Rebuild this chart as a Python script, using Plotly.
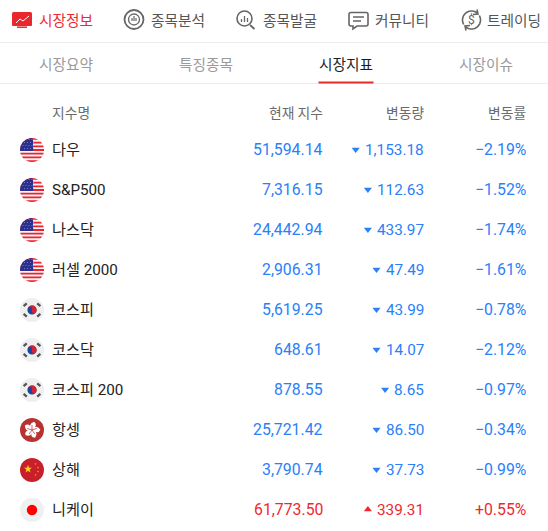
import math
import plotly.graph_objects as go

nav_labels = ["시장정보", "종목분석", "종목발굴", "커뮤니티", "트레이딩"]
tab_labels = ["시장요약", "특징종목", "시장지표", "시장이슈"]
headers = ["지수명", "현재 지수", "변동량", "변동률"]
names = ["다우", "S&P500", "나스닥", "러셀 2000", "코스피", "코스닥", "코스피 200", "항셍", "상해", "니케이"]
flags = ["us", "us", "us", "us", "kr", "kr", "kr", "hk", "cn", "jp"]
index_values = ["51,594.14", "7,316.15", "24,442.94", "2,906.31", "5,619.25", "648.61", "878.55", "25,721.42", "3,790.74", "61,773.50"]
changes = ["1,153.18", "112.63", "433.97", "47.49", "43.99", "14.07", "8.65", "86.50", "37.73", "339.31"]
rates = ["−2.19%", "−1.52%", "−1.74%", "−1.61%", "−0.78%", "−2.12%", "−0.97%", "−0.34%", "−0.99%", "+0.55%"]

BLUE = "#2a80f8"
RED = "#f0282d"
FONT = "Roboto, 'Noto Sans CJK KR', sans-serif"
KFONT = "'Noto Sans CJK KR', sans-serif"

fig = go.Figure()
shapes, ann = [], []

def text(x, y, s, size, color, anchor="left", family=KFONT):
    ann.append(dict(x=x, y=y, text=s, showarrow=False, xanchor=anchor, yanchor="middle",
                    font=dict(size=size, color=color, family=family), xref="x", yref="y",
                    borderpad=0, borderwidth=0))

def circle(cx, cy, r, fill):
    shapes.append(dict(type="circle", x0=cx-r, x1=cx+r, y0=cy-r, y1=cy+r, fillcolor=fill, line_width=0, layer="above"))

def path(d, fill=None, stroke=None, w=1.5):
    shapes.append(dict(type="path", path=d, fillcolor=fill if fill else "rgba(0,0,0,0)",
                       line=dict(color=stroke if stroke else "rgba(0,0,0,0)", width=w if stroke else 0), layer="above"))

def arc_pts(cx, cy, r, a0, a1, n=24):
    return [(cx + r*math.cos(math.radians(a0 + (a1-a0)*i/n)), cy + r*math.sin(math.radians(a0 + (a1-a0)*i/n))) for i in range(n+1)]

def poly(pts, close=True):
    return "M" + " L".join(f"{a:.2f},{b:.2f}" for a, b in pts) + (" Z" if close else "")

def band(cx, cy, r, y0, y1, x_max=None):
    pts_l, pts_r = [], []
    n = 8
    for i in range(n + 1):
        y = y0 + (y1 - y0) * i / n
        dy = max(min(y - cy, r), -r)
        hw = math.sqrt(max(r*r - dy*dy, 0))
        pts_l.append((cx - hw, y))
        xr = cx + hw if x_max is None else min(cx + hw, x_max)
        pts_r.append((xr, y))
    return poly(pts_l + pts_r[::-1])

FR = 12

def flag_us(cx, cy):
    r = FR
    circle(cx, cy, r, "#f4f4f6")
    k = 2 * r / 13
    top = cy - r
    for i in range(0, 13, 2):
        path(band(cx, cy, r, top + i*k, top + (i+1)*k), fill="#f0222c")
    path(band(cx, cy, r, top, top + 7*k, x_max=cx + 1), fill="#2b2f8f")
    for iy in range(4):
        for ix in range(4):
            x = cx - 9 + ix * 3 + (iy % 2) * 1.5
            y = cy - 10.5 + iy * 3
            if (x - cx)**2 + (y - cy)**2 < (r - 1)**2:
                path(f"M{x-.4:.2f},{y:.2f} L{x+.4:.2f},{y:.2f}", stroke="#a9a9d6", w=0.8)

def flag_kr(cx, cy):
    circle(cx, cy, FR, "#efeff0")
    r = 4.6
    t = 25
    red = arc_pts(cx, cy, r, 180+t, 360+t) + arc_pts(cx + r/2*math.cos(math.radians(t)), cy + r/2*math.sin(math.radians(t)), r/2, t, t+180) \
        + arc_pts(cx - r/2*math.cos(math.radians(t)), cy - r/2*math.sin(math.radians(t)), r/2, t, t-180)
    circle(cx, cy, r, "#17469e")
    path(poly(red), fill="#d8202f")
    for sx in (-1, 1):
        for sy in (-1, 1):
            x = cx + sx * 6.8
            y = cy + sy * 5.2
            dx, dy = 1.6, -sx * sy * 1.4
            path(f"M{x-dx},{y-dy} L{x+dx},{y+dy}", stroke="#555555", w=2.2)

def flag_hk(cx, cy):
    circle(cx, cy, FR, "#b93232")
    for i in range(5):
        a = math.radians(-90 + 72 * i)
        tipx, tipy = cx + 8.4 * math.cos(a + 0.25), cy + 8.4 * math.sin(a + 0.25)
        l = a + 0.95
        rr = a - 0.75
        path(f"M{cx},{cy} Q{cx+8.2*math.cos(l):.2f},{cy+8.2*math.sin(l):.2f} {tipx:.2f},{tipy:.2f} "
             f"Q{cx+7.2*math.cos(rr):.2f},{cy+7.2*math.sin(rr):.2f} {cx},{cy} Z", fill="#ffffff")
    for i in range(5):
        a = math.radians(-90 + 72 * i)
        path(f"M{cx},{cy} L{cx+5*math.cos(a):.2f},{cy+5*math.sin(a):.2f}", stroke="#b93232", w=0.7)

def star(cx, cy, R):
    pts = []
    for i in range(10):
        a = math.radians(-90 + 36 * i)
        rad = R if i % 2 == 0 else R * 0.4
        pts.append((cx + rad*math.cos(a), cy + rad*math.sin(a)))
    return poly(pts)

def flag_cn(cx, cy):
    circle(cx, cy, FR, "#c8202a")
    path(star(cx - 4, cy - 1, 4.2), fill="#ffd21e")
    for dx, dy in ((3.5, -6), (6, -2.5), (6, 1.5), (3.5, 5)):
        path(star(cx + dx, cy + dy, 1.2), fill="#e8a01e")

def flag_jp(cx, cy):
    circle(cx, cy, FR, "#f0f0f1")
    circle(cx, cy, 5.2, "#ff0000")

painters = dict(us=flag_us, kr=flag_kr, hk=flag_hk, cn=flag_cn, jp=flag_jp)

for y in (42.5, 83.5):
    shapes.append(dict(type="line", x0=0, x1=548, y0=y, y1=y, line=dict(color="#ececec", width=1)))
shapes.append(dict(type="line", x0=318.5, x1=373.5, y0=82.5, y1=82.5, line=dict(color="#ee2a2a", width=2), layer="above"))

nav_x = [39, 151, 263, 375, 487]
for i, (x, s) in enumerate(zip(nav_x, nav_labels)):
    text(x, 19, s, 14.7, RED if i == 0 else "#555555")
# nav icon 1
path("M12,13.5 Q12,12 13.5,12 L30.5,12 Q32,12 32,13.5 L32,25 Q32,26 31,26 L13,26 Q12,26 12,25 Z", fill="#e8282c")
path("M17,27.2 L27,27.2", stroke="#e8282c", w=1.5)
path("M16,23 L20,19 L23,21 L29,16", stroke="#ffffff", w=1)
# nav icon 2
shapes.append(dict(type="circle", x0=124.5, x1=143.5, y0=10, y1=29, line=dict(color="#666666", width=1.8), layer="above"))
shapes.append(dict(type="circle", x0=128.5, x1=139.5, y0=14, y1=25, line=dict(color="#666666", width=1.3), layer="above"))
for x0, h in ((132, 3), (134, 5), (136, 3)):
    path(f"M{x0},{21} L{x0},{21-h}", stroke="#666666", w=1.2)
# nav icon 3
shapes.append(dict(type="circle", x0=237, x1=252, y0=11, y1=26, line=dict(color="#666666", width=1.6), layer="above"))
path("M250,25 L254.5,29", stroke="#666666", w=1.8)
for x0, h in ((241.5, 3), (244.5, 6), (247.5, 4)):
    path(f"M{x0},{22} L{x0},{22-h}", stroke="#666666", w=1.3)
# nav icon 4
path("M351,12.5 L366,12.5 Q368,12.5 368,14.5 L368,24 Q368,26 366,26 L357,26 L353,29 L353,26 L351,26 Q349,26 349,24 L349,14.5 Q349,12.5 351,12.5 Z", stroke="#666666", w=1.6)
path("M353,17 L364,17 M353,21 L361,21", stroke="#666666", w=1.3)
# nav icon 5
path(poly(arc_pts(471.5, 20, 9, 150, 310), close=False) + " M477,9.5 L478,14 L473,14.5", stroke="#666666", w=1.6)
path(poly(arc_pts(471.5, 20, 9, -30, 130), close=False) + " M466,30.5 L465,26 L470,25.5", stroke="#666666", w=1.6)
text(471.5, 20, "$", 12, "#666666", "center", FONT)

tab_x = [39, 179, 319, 459]
for i, (x, s) in enumerate(zip(tab_x, tab_labels)):
    text(x, 63, s, 14.7, "#1e1e1e" if i == 2 else "#9a9a9a")

text(52, 111.5, headers[0], 13.8, "#6a6a6a")
text(322.5, 111.5, headers[1], 13.8, "#6a6a6a", "right")
text(424, 111.5, headers[2], 13.8, "#6a6a6a", "right")
text(526, 111.5, headers[3], 13.8, "#6a6a6a", "right")

tri_x, tri_y, tri_col, tri_sym = [], [], [], []
for i in range(len(names)):
    y = 149 + 40 * i
    col = RED if rates[i].startswith("+") else BLUE
    painters[flags[i]](32, y + 1)
    text(52, y + 0.5, names[i], 15.2, "#222222", family=FONT)
    text(322.8, y + 0.5, index_values[i], 15.8, col, "right", FONT)
    text(423.8, y + 0.5, changes[i], 15.3, col, "right", FONT)
    text(525.5, y + 0.5, rates[i], 15.8, col, "right", FONT)
    w = sum(3.6 if c in ",." else 8.6 for c in changes[i])
    tri_x.append(424 - w - 9.5)
    tri_y.append(y + 0.5)
    tri_col.append(col)
    tri_sym.append("triangle-up" if col == RED else "triangle-down")

fig.add_trace(go.Scatter(x=tri_x, y=tri_y, mode="markers", hoverinfo="skip",
                         marker=dict(symbol=tri_sym, color=tri_col, size=7, line_width=0)))

fig.update_layout(width=548, height=531, autosize=False, margin=dict(l=0, r=0, t=0, b=0),
                  paper_bgcolor="#ffffff", plot_bgcolor="#ffffff", showlegend=False,
                  shapes=shapes, annotations=ann,
                  xaxis=dict(range=[0, 548], visible=False, fixedrange=True),
                  yaxis=dict(range=[531, 0], visible=False, fixedrange=True))
fig.write_html("out.html", config=dict(displayModeBar=False),
               post_script="document.body.style.margin='0';document.body.style.overflow='hidden';")
